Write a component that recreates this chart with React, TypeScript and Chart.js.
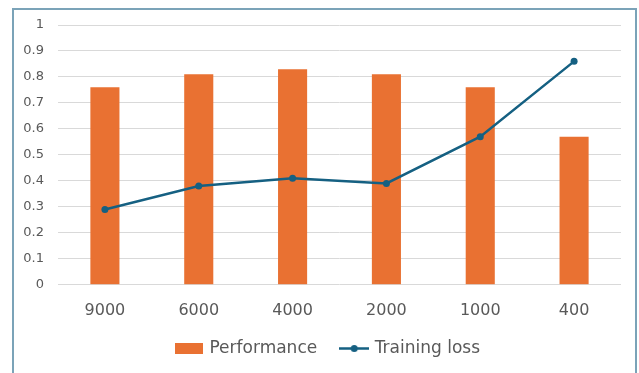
import React, { useEffect, useRef } from "react";
import { Chart, registerables } from "chart.js";

Chart.register(...registerables);

const categories = ["9000", "6000", "4000", "2000", "1000", "400"];
const performance = [0.76, 0.81, 0.83, 0.81, 0.76, 0.57];
const trainingLoss = [0.29, 0.38, 0.41, 0.39, 0.57, 0.86];
const seriesNames = ["Performance", "Training loss"];

const ORANGE = "#E97132";
const TEAL = "#156082";
const TEXT = "#595959";
const GRID = "#D9D9D9";
const FONT = "'DejaVu Sans', sans-serif";

function makeBoxIcon(): HTMLCanvasElement {
  const c = document.createElement("canvas");
  c.width = 28;
  c.height = 11;
  const ctx = c.getContext("2d")!;
  ctx.fillStyle = ORANGE;
  ctx.fillRect(0, 0, 28, 11);
  return c;
}

function makeLineIcon(): HTMLCanvasElement {
  const c = document.createElement("canvas");
  c.width = 30;
  c.height = 9;
  const ctx = c.getContext("2d")!;
  ctx.strokeStyle = TEAL;
  ctx.lineWidth = 2.5;
  ctx.beginPath();
  ctx.moveTo(0, 4.5);
  ctx.lineTo(30, 4.5);
  ctx.stroke();
  ctx.fillStyle = TEAL;
  ctx.beginPath();
  ctx.arc(15, 4.5, 3.5, 0, Math.PI * 2);
  ctx.fill();
  return c;
}

// Tighten the gap between the x axis and the legend, and nudge the legend right.
const LEGEND_SHRINK = 21;
const LEGEND_SHIFT_X = 11;
const legendTightPlugin = {
  id: "legendTight",
  afterInit(chart: any) {
    const lg = chart.legend;
    if (!lg || lg.__wrapped) return;
    const origFit = lg.fit.bind(lg);
    lg.fit = function () {
      origFit();
      this.height = Math.max(0, this.height - LEGEND_SHRINK);
    };
    lg.__wrapped = true;
  },
  afterLayout(chart: any) {
    const lg = chart.legend;
    if (!lg) return;
    lg.top -= LEGEND_SHRINK;
    lg.height += LEGEND_SHRINK;
    lg.left += LEGEND_SHIFT_X;
    lg.right += LEGEND_SHIFT_X;
  },
};

export default function App() {
  const ref = useRef<HTMLCanvasElement>(null);

  useEffect(() => {
    if (!ref.current) return;
    const boxIcon = makeBoxIcon();
    const lineIcon = makeLineIcon();
    const chart = new Chart(ref.current, {
      type: "bar",
      plugins: [legendTightPlugin],
      data: {
        labels: categories,
        datasets: [
          {
            type: "bar",
            label: seriesNames[0],
            data: performance,
            backgroundColor: ORANGE,
            borderWidth: 0,
            barPercentage: 0.31,
            categoryPercentage: 1,
            order: 2,
          },
          {
            type: "line",
            label: seriesNames[1],
            data: trainingLoss,
            borderColor: TEAL,
            backgroundColor: TEAL,
            borderWidth: 2.5,
            pointRadius: 3.5,
            pointBackgroundColor: TEAL,
            pointBorderWidth: 0,
            tension: 0,
            order: 1,
            pointStyle: "circle",
          },
        ],
      },
      options: {
        animation: false,
        responsive: false,
        maintainAspectRatio: false,
        layout: { padding: { left: 0, right: 14, top: 15, bottom: 6 } },
        scales: {
          x: {
            grid: { display: false, drawTicks: false },
            border: { display: false },
            ticks: { color: TEXT, font: { family: FONT, size: 16 }, padding: 16 },
          },
          y: {
            min: 0,
            max: 1,
            grid: { color: GRID, lineWidth: 1, drawTicks: false },
            border: { display: false },
            ticks: {
              stepSize: 0.1,
              color: TEXT,
              font: { family: FONT, size: 13 },
              padding: 14,
              callback: (v: any) => String(Math.round(Number(v) * 10) / 10),
            },
            afterFit: (s: any) => {
              s.width = 44;
              s.paddingTop = 0;
              s.paddingBottom = 0;
            },
          },
        },
        plugins: {
          tooltip: { enabled: false },
          legend: {
            position: "bottom",
            labels: {
              color: TEXT,
              font: { family: FONT, size: 17 },
              usePointStyle: true,
              pointStyleWidth: 24,
              padding: 25,
              sort: (a: any, b: any) => a.datasetIndex - b.datasetIndex,
              generateLabels: (ch: any) => {
                const items = Chart.defaults.plugins.legend.labels.generateLabels(ch);
                items.forEach((it: any) => {
                  it.pointStyle = it.datasetIndex === 0 ? boxIcon : lineIcon;
                });
                return items;
              },
            },
          },
        },
      },
    });
    return () => chart.destroy();
  }, []);

  return (
    <div
      style={{
        position: "absolute",
        left: 12,
        top: 8,
        width: 625,
        height: 365,
        boxSizing: "border-box",
        border: "2px solid #7BA3B8",
        borderBottom: "none",
        overflow: "hidden",
        background: "#fff",
      }}
    >
      <canvas ref={ref} width={621} height={363} style={{ display: "block" }} />
    </div>
  );
}
